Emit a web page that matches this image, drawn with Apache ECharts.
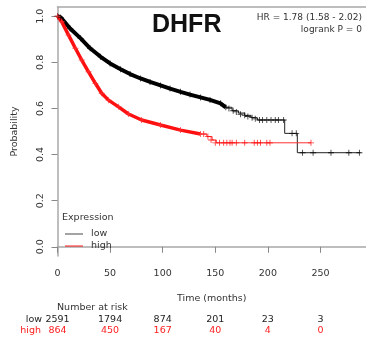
<!DOCTYPE html>
<html>
<head>
<meta charset="utf-8">
<script src="https://cdn.jsdelivr.net/npm/echarts@6/dist/echarts.min.js"></script>
<style>
html,body{margin:0;padding:0;background:#fff;}
#c{width:366px;height:344px;}
</style>
</head>
<body>
<div id="c"></div>
<script>
// ---- data ----
var title = 'DHFR';
var hrText = 'HR = 1.78 (1.58 - 2.02)';
var pText = 'logrank P = 0';
var groups = ['low', 'high'];

// dense part of Kaplan-Meier curves (months, survival)
var lowTime  = [0, 3, 12, 22, 31, 41, 50, 60, 69, 79, 88, 98, 107, 117, 126, 136, 145, 155, 160];
var lowSurv  = [1.0, 0.995, 0.947, 0.904, 0.861, 0.824, 0.795, 0.77, 0.749, 0.73, 0.715, 0.70, 0.686, 0.672, 0.66, 0.648, 0.637, 0.622, 0.605];
var highTime = [0, 4, 10.5, 17, 23, 29.5, 36, 42, 48.5, 58, 67.5, 80, 98, 117, 136];
var highSurv = [1.0, 0.976, 0.918, 0.861, 0.81, 0.759, 0.709, 0.666, 0.636, 0.607, 0.576, 0.55, 0.528, 0.506, 0.489];

// tail steps
var lowTailTime  = [160, 166, 172, 178, 184, 190, 216, 228, 288];
var lowTailSurv  = [0.605, 0.59, 0.58, 0.57, 0.56, 0.55, 0.492, 0.408, 0.408];
var highTailTime = [136, 142, 147, 151, 241];
var highTailSurv = [0.489, 0.478, 0.463, 0.451, 0.451];

// censoring marks in the tails
var lowCensorTime = [163, 167, 170, 174, 178, 181, 185, 188, 192, 195, 199, 203, 207, 210, 215, 223, 227, 233, 243, 260, 277, 287];
var lowCensorSurv = [0.60, 0.59, 0.585, 0.575, 0.57, 0.565, 0.56, 0.555, 0.55, 0.55, 0.55, 0.55, 0.55, 0.55, 0.55, 0.492, 0.492, 0.408, 0.408, 0.408, 0.408, 0.408];
var highCensorTime = [139, 143, 146, 150, 154, 158, 161, 164, 166, 170, 178, 187, 190, 193, 199, 202, 241];
var highCensorSurv = [0.489, 0.478, 0.463, 0.451, 0.451, 0.451, 0.451, 0.451, 0.451, 0.451, 0.451, 0.451, 0.451, 0.451, 0.451, 0.451, 0.451];

// number at risk
var riskTimes = [0, 50, 100, 150, 200, 250];
var riskLow   = [2591, 1794, 874, 201, 23, 3];
var riskHigh  = [864, 450, 167, 40, 4, 0];

var xTicks = [0, 50, 100, 150, 200, 250];
var yTicks = [0, 0.2, 0.4, 0.6, 0.8, 1.0];

// ---- build ----
function pairs(a, b) { return a.map(function (v, i) { return [v, b[i]]; }); }
var plus = 'path://M0,4.3h10v1.4h-10zM4.3,0h1.4v10h-1.4z';
var FONT = 'DejaVu Sans';
var TXT = '#333';
var BOX = '#a8a8a8';

var chart = echarts.init(document.getElementById('c'), null, {renderer: 'canvas'});
var option = {
  animation: false,
  backgroundColor: '#fff',
  textStyle: {fontFamily: FONT},
  grid: {left: 57.5, top: 7, right: 0, bottom: 88, show: false},
  xAxis: [{
    type: 'value', min: 0, max: 293.3,
    name: 'Time (months)', nameLocation: 'middle', nameGap: 38,
    nameTextStyle: {fontSize: 9.5, color: TXT, fontFamily: FONT},
    axisLine: {show: true, lineStyle: {color: BOX, width: 1.5}},
    axisTick: {show: true, length: 6, lineStyle: {color: '#888'}, customValues: xTicks},
    axisLabel: {fontSize: 9.5, color: TXT, margin: 13, customValues: xTicks, fontFamily: FONT},
    splitLine: {show: false}
  }, {
    type: 'value', min: 0, max: 293.3, position: 'top',
    axisLine: {show: true, lineStyle: {color: BOX, width: 1.5}},
    axisTick: {show: false}, axisLabel: {show: false}, splitLine: {show: false}
  }],
  yAxis: {
    type: 'value', min: -0.04, max: 1.04,
    name: 'Probability', nameLocation: 'middle', nameGap: 38, nameRotate: 90,
    nameTextStyle: {fontSize: 9.5, color: TXT, fontFamily: FONT},
    axisLine: {show: true, lineStyle: {color: BOX, width: 1.5}},
    axisTick: {show: true, length: 6, lineStyle: {color: '#888'}, customValues: yTicks},
    axisLabel: {fontSize: 9.5, color: TXT, margin: 12, rotate: 90, customValues: yTicks, fontFamily: FONT,
      formatter: function (v) { return v.toFixed(1); }},
    splitLine: {show: false}
  },
  legend: {
    data: [{name: 'low', itemStyle: {color: '#333'}, lineStyle: {color: '#333'}}, {name: 'high'}],
    orient: 'vertical', left: 65, top: 229, itemGap: 2, padding: 0,
    itemWidth: 18, itemHeight: 9, icon: 'path://M0,4h18v0.9h-18z',
    textStyle: {fontSize: 9.5, color: TXT, fontFamily: FONT, padding: [0, 0, 0, 3]}
  },
  series: [
    {name: 'low', type: 'line', data: pairs(lowTime, lowSurv), symbol: 'none', lineStyle: {color: '#000', width: 4}, itemStyle: {color: '#000'}, z: 3},
    {name: 'low', type: 'line', step: 'end', data: pairs(lowTailTime, lowTailSurv), symbol: 'none', lineStyle: {color: '#222', width: 1}, itemStyle: {color: '#000'}, z: 3},
    {name: 'low', type: 'scatter', data: pairs(lowCensorTime, lowCensorSurv), symbol: plus, symbolSize: 6, itemStyle: {color: '#000'}, z: 4},
    {name: 'low', type: 'scatter', data: pairs(lowTime, lowSurv), symbol: plus, symbolSize: 6, itemStyle: {color: '#000'}, z: 4},
    {name: 'high', type: 'line', data: pairs(highTime, highSurv), symbol: 'none', lineStyle: {color: '#ff1010', width: 3.5}, itemStyle: {color: '#ff0000'}, z: 3},
    {name: 'high', type: 'line', step: 'end', data: pairs(highTailTime, highTailSurv), symbol: 'none', lineStyle: {color: '#ff3030', width: 1}, itemStyle: {color: '#ff0000'}, z: 3},
    {name: 'high', type: 'scatter', data: pairs(highCensorTime, highCensorSurv), symbol: plus, symbolSize: 6, itemStyle: {color: '#ff0000'}, z: 4},
    {name: 'high', type: 'scatter', data: pairs(highTime, highSurv), symbol: plus, symbolSize: 6, itemStyle: {color: '#ff3030'}, z: 4}
  ]
};
chart.setOption(option);

// text overlays positioned by the axis scale
var g = [];
g.push({type: 'text', left: 152, top: 13, style: {text: title, font: 'bold 25px "Liberation Sans", Arial, sans-serif', fill: '#111'}});
g.push({type: 'text', x: 362, y: 18, style: {text: hrText, font: '9px "DejaVu Sans"', fill: TXT, align: 'right', verticalAlign: 'middle'}});
g.push({type: 'text', x: 362, y: 30, style: {text: pText, font: '9px "DejaVu Sans"', fill: TXT, align: 'right', verticalAlign: 'middle'}});
g.push({type: 'text', left: 62, top: 213, style: {text: 'Expression', font: '9.5px "DejaVu Sans"', fill: TXT}});
g.push({type: 'text', left: 57, top: 303, style: {text: 'Number at risk', font: '9.5px "DejaVu Sans"', fill: TXT}});
var rowLowY = 320, rowHighY = 331;
g.push({type: 'text', x: 42, y: rowLowY, style: {text: groups[0], font: '9.5px "DejaVu Sans"', fill: '#222', align: 'right', verticalAlign: 'middle'}});
g.push({type: 'text', x: 41, y: rowHighY, style: {text: groups[1], font: '9.5px "DejaVu Sans"', fill: '#ff2020', align: 'right', verticalAlign: 'middle'}});
riskTimes.forEach(function (t, i) {
  var px = chart.convertToPixel({xAxisIndex: 0}, t);
  g.push({type: 'text', x: px, y: rowLowY, style: {text: String(riskLow[i]), font: '9.5px "DejaVu Sans"', fill: '#222', align: 'center', verticalAlign: 'middle'}});
  g.push({type: 'text', x: px, y: rowHighY, style: {text: String(riskHigh[i]), font: '9.5px "DejaVu Sans"', fill: '#ff2020', align: 'center', verticalAlign: 'middle'}});
});
chart.setOption({graphic: g});
</script>
</body>
</html>
